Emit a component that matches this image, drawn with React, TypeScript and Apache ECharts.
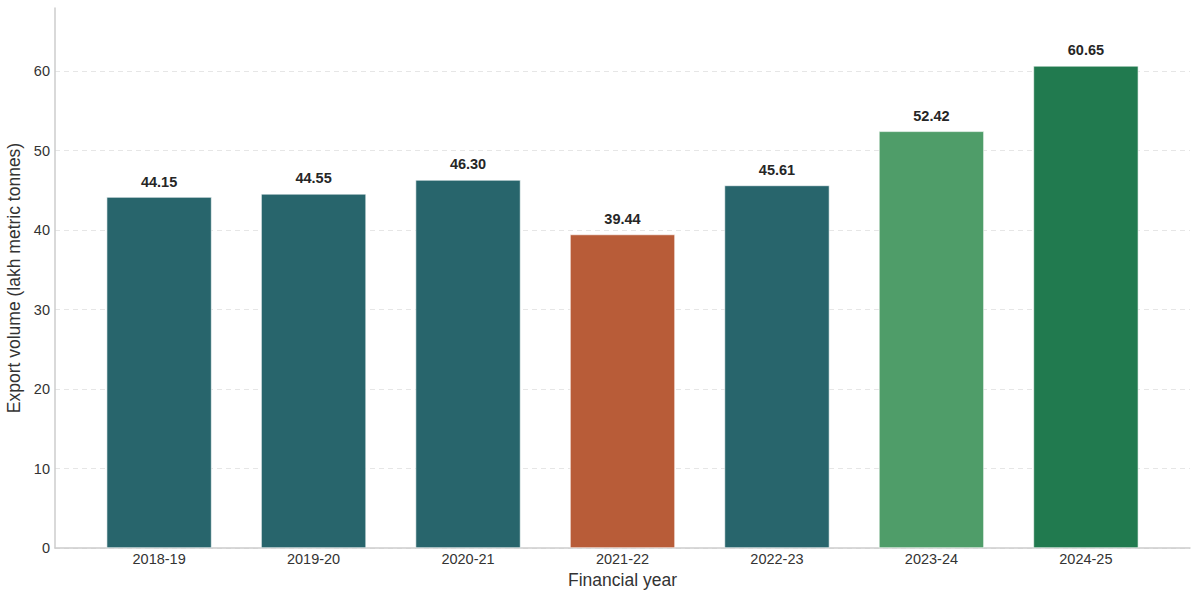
import React, { useEffect, useRef } from "react";
import * as echarts from "echarts";

const years = ["2018-19", "2019-20", "2020-21", "2021-22", "2022-23", "2023-24", "2024-25"];
const volumes = [44.15, 44.55, 46.3, 39.44, 45.61, 52.42, 60.65];
const barColors = ["#28656c", "#28656c", "#28656c", "#b85c38", "#28656c", "#4f9d69", "#217a4f"];
const yTicks = [0, 10, 20, 30, 40, 50, 60];

const FONT = "Liberation Sans, Arial, Helvetica, sans-serif";

export default function App() {
  const ref = useRef<HTMLDivElement>(null);
  useEffect(() => {
    if (!ref.current) return;
    const chart = echarts.init(ref.current, undefined, { renderer: "svg" });
    const xIdx = years.map((_, i) => i);
    chart.setOption({
      animation: false,
      backgroundColor: "#ffffff",
      textStyle: { fontFamily: FONT },
      grid: { left: 55, right: 10, top: 8, bottom: 52, containLabel: false, outerBoundsMode: "none" },
      xAxis: {
        type: "value",
        min: -0.674,
        max: 6.674,
        name: "Financial year",
        nameLocation: "middle",
        nameGap: 22,
        nameTextStyle: { fontSize: 17.5, color: "#333", fontFamily: FONT },
        axisLine: { show: true, onZero: false, lineStyle: { color: "#cccccc", width: 1.5 } },
        axisTick: { show: false, customValues: xIdx },
        splitLine: { show: false },
        axisLabel: {
          customValues: xIdx,
          formatter: (v: number) => years[Math.round(v)] ?? "",
          fontSize: 14.5,
          color: "#333",
          margin: 3,
          fontFamily: FONT,
        },
      },
      yAxis: {
        type: "value",
        min: 0,
        max: 67.93,
        name: "Export volume (lakh metric tonnes)",
        nameLocation: "middle",
        nameGap: 27,
        nameTextStyle: { fontSize: 17.5, color: "#333", fontFamily: FONT },
        axisLine: { show: true, onZero: false, lineStyle: { color: "#cccccc", width: 1.5 } },
        axisTick: { show: false, customValues: yTicks },
        splitLine: { show: true, lineStyle: { color: "#e6e6e6", type: [5, 4], width: 1 } },
        axisLabel: {
          customValues: yTicks,
          fontSize: 14.5,
          color: "#333",
          margin: 5,
          fontFamily: FONT,
        },
      },
      series: [
        {
          type: "bar",
          barWidth: 105,
          data: volumes.map((v, i) => ({
            value: [i, v],
            itemStyle: { color: barColors[i], borderColor: "#ffffff", borderWidth: 0.6 },
          })),
          label: {
            show: true,
            position: "top",
            distance: 8,
            formatter: (p: any) => (p.value[1] as number).toFixed(2),
            fontSize: 14.5,
            fontWeight: "bold",
            color: "#262626",
            fontFamily: FONT,
          },
        },
      ],
    });
    return () => chart.dispose();
  }, []);
  return (
    <div
      ref={ref}
      style={{ position: "absolute", left: 0, top: 0, width: 1200, height: 600 }}
    />
  );
}
